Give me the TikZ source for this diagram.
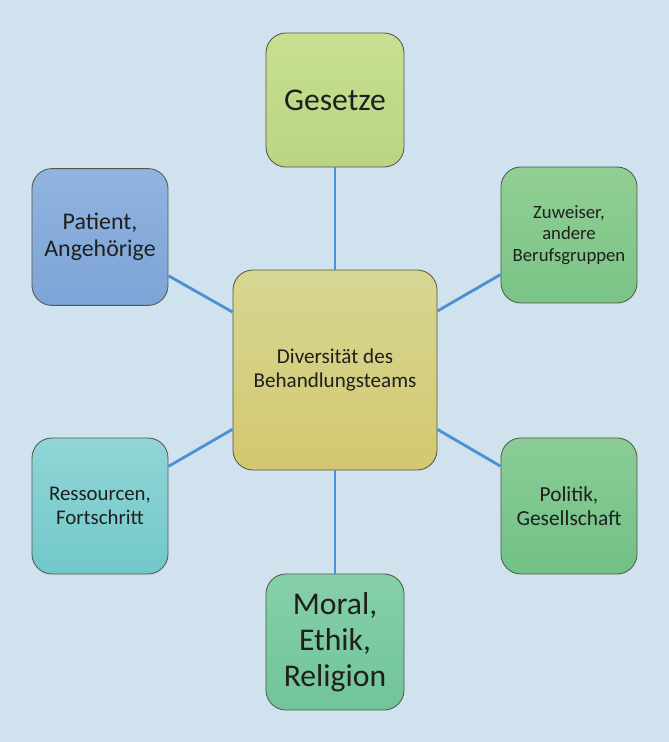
\documentclass[tikz,border=0pt]{standalone}
\usepackage{fontspec}
\setmainfont{Carlito}
\definecolor{fond}{HTML}{D0E2EE}
\definecolor{trait}{HTML}{4A90D4}
\definecolor{bord}{HTML}{55574A}
\tikzset{
	boite/.style={draw=bord, line width=0.6pt, rounded corners=0.5cm, align=center,
		text=black!88, inner sep=2pt},
	lien/.style={draw=trait, line width=2pt}
}
\begin{document}
\begin{tikzpicture}[x=0.025cm, y=-0.025cm]
				% Fond
				\fill [color=fond]	(0,0)	rectangle	(669,742)	;
				% Boites
				\node [boite, minimum width=5.1cm, minimum height=5cm,
					top color={rgb,255:red,214;green,214;blue,147}, bottom color={rgb,255:red,211;green,200;blue,111},
					font=\fontsize{15}{17}\selectfont]
					(div) at (335,370) {Diversität des\\Behandlungsteams};
				\node [boite, minimum width=3.45cm, minimum height=3.35cm,
					top color={rgb,255:red,200;green,223;blue,146}, bottom color={rgb,255:red,186;green,213;blue,130},
					font=\fontsize{22.5}{26}\selectfont]
					(ges) at (335,100) {Gesetze};
				\node [boite, minimum width=3.4cm, minimum height=3.42cm,
					top color={rgb,255:red,145;green,180;blue,223}, bottom color={rgb,255:red,124;green,164;blue,215},
					font=\fontsize{17}{19.5}\selectfont]
					(pat) at (100,237) {Patient,\\Angehörige};
				\node [boite, minimum width=3.4cm, minimum height=3.4cm,
					top color={rgb,255:red,145;green,207;blue,148}, bottom color={rgb,255:red,122;green,195;blue,134},
					font=\fontsize{13.3}{15.3}\selectfont]
					(zuw) at (569,235) {Zuweiser,\\andere\\Berufsgruppen};
				\node [boite, minimum width=3.4cm, minimum height=3.4cm,
					top color={rgb,255:red,145;green,213;blue,215}, bottom color={rgb,255:red,114;green,200;blue,202},
					font=\fontsize{14.8}{17}\selectfont]
					(res) at (100,506) {Ressourcen,\\Fortschritt};
				\node [boite, minimum width=3.4cm, minimum height=3.4cm,
					top color={rgb,255:red,138;green,205;blue,150}, bottom color={rgb,255:red,113;green,193;blue,133},
					font=\fontsize{15.2}{17.2}\selectfont]
					(pol) at (569,506) {Politik,\\Gesellschaft};
				\node [boite, minimum width=3.45cm, minimum height=3.4cm,
					top color={rgb,255:red,134;green,208;blue,169}, bottom color={rgb,255:red,113;green,196;blue,154},
					font=\fontsize{22.5}{25.5}\selectfont]
					(mor) at (335,642) {Moral,\\Ethik,\\Religion};
				% Liens
				\draw [lien]	(ges)	-- (div);
				\draw [lien]	(mor)	-- (div);
				\draw [lien]	(pat)	-- (div);
				\draw [lien]	(zuw)	-- (div);
				\draw [lien]	(res)	-- (div);
				\draw [lien]	(pol)	-- (div);
			\end{tikzpicture}
\end{document}
